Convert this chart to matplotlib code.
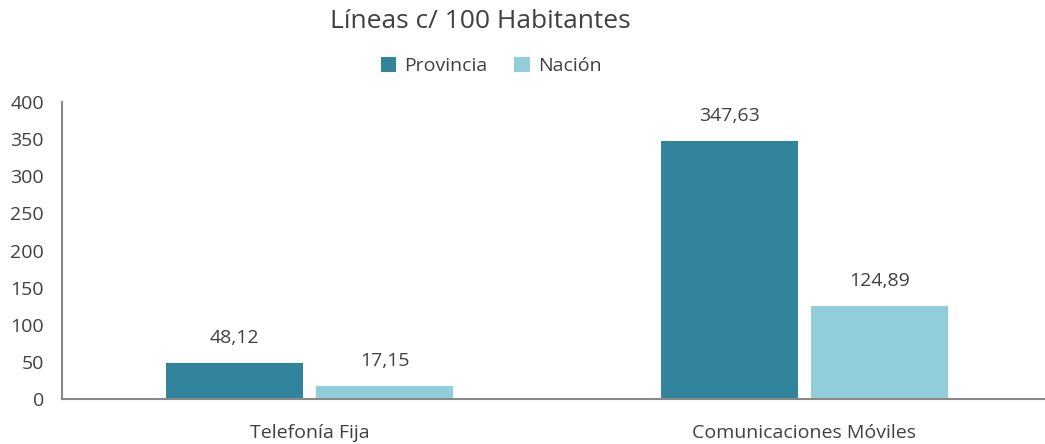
import numpy as np
import matplotlib.pyplot as plt

categories = ["Telefonía Fija", "Comunicaciones Móviles"]
provincia = [48.12, 347.63]
nacion = [17.15, 124.89]
series_names = ["Provincia", "Nación"]
yticks = [0, 50, 100, 150, 200, 250, 300, 350, 400]

plt.rcParams['font.family'] = ['Open Sans', 'DejaVu Sans']
txt = '#404040'

fig = plt.figure(figsize=(10.45, 4.44), dpi=100)
ax = fig.add_axes([62/1045, 45/444, 990/1045, 297/444])

x = np.arange(len(categories))
w = 0.277
off = 0.152
b1 = ax.bar(x - off, provincia, w, color='#31849B', label=series_names[0])
b2 = ax.bar(x + off, nacion, w, color='#92CDDC', label=series_names[1])

for bars, vals in [(b1, provincia), (b2, nacion)]:
    for r, v in zip(bars, vals):
        ax.text(r.get_x() + r.get_width()/2, v + 34, f"{v:.2f}".replace('.', ','),
                ha='center', va='center', fontsize=14, color=txt)

ax.set_xlim(-0.5, 1.5)
ax.set_ylim(0, 400)
ax.set_yticks(yticks)
ax.set_xticks(x)
ax.set_xticklabels(categories)
ax.tick_params(axis='both', length=0, labelsize=14, colors=txt)
ax.tick_params(axis='x', pad=18)
ax.tick_params(axis='y', pad=13)
for s in ['top', 'right']:
    ax.spines[s].set_visible(False)
for s in ['left', 'bottom']:
    ax.spines[s].set_color('#898989')
    ax.spines[s].set_linewidth(1.5)

fig.text(480/1045, 1 - 22/444, "Líneas c/ 100 Habitantes", ha='center', va='center',
         fontsize=19, color=txt)
fig.legend(loc='center', bbox_to_anchor=(491/1045, 1 - 66/444), ncol=2, frameon=False,
           fontsize=14, labelcolor=txt, handlelength=0.8, handleheight=0.8,
           columnspacing=1.4, handletextpad=0.4)

fig.savefig('out.png', dpi=100)
